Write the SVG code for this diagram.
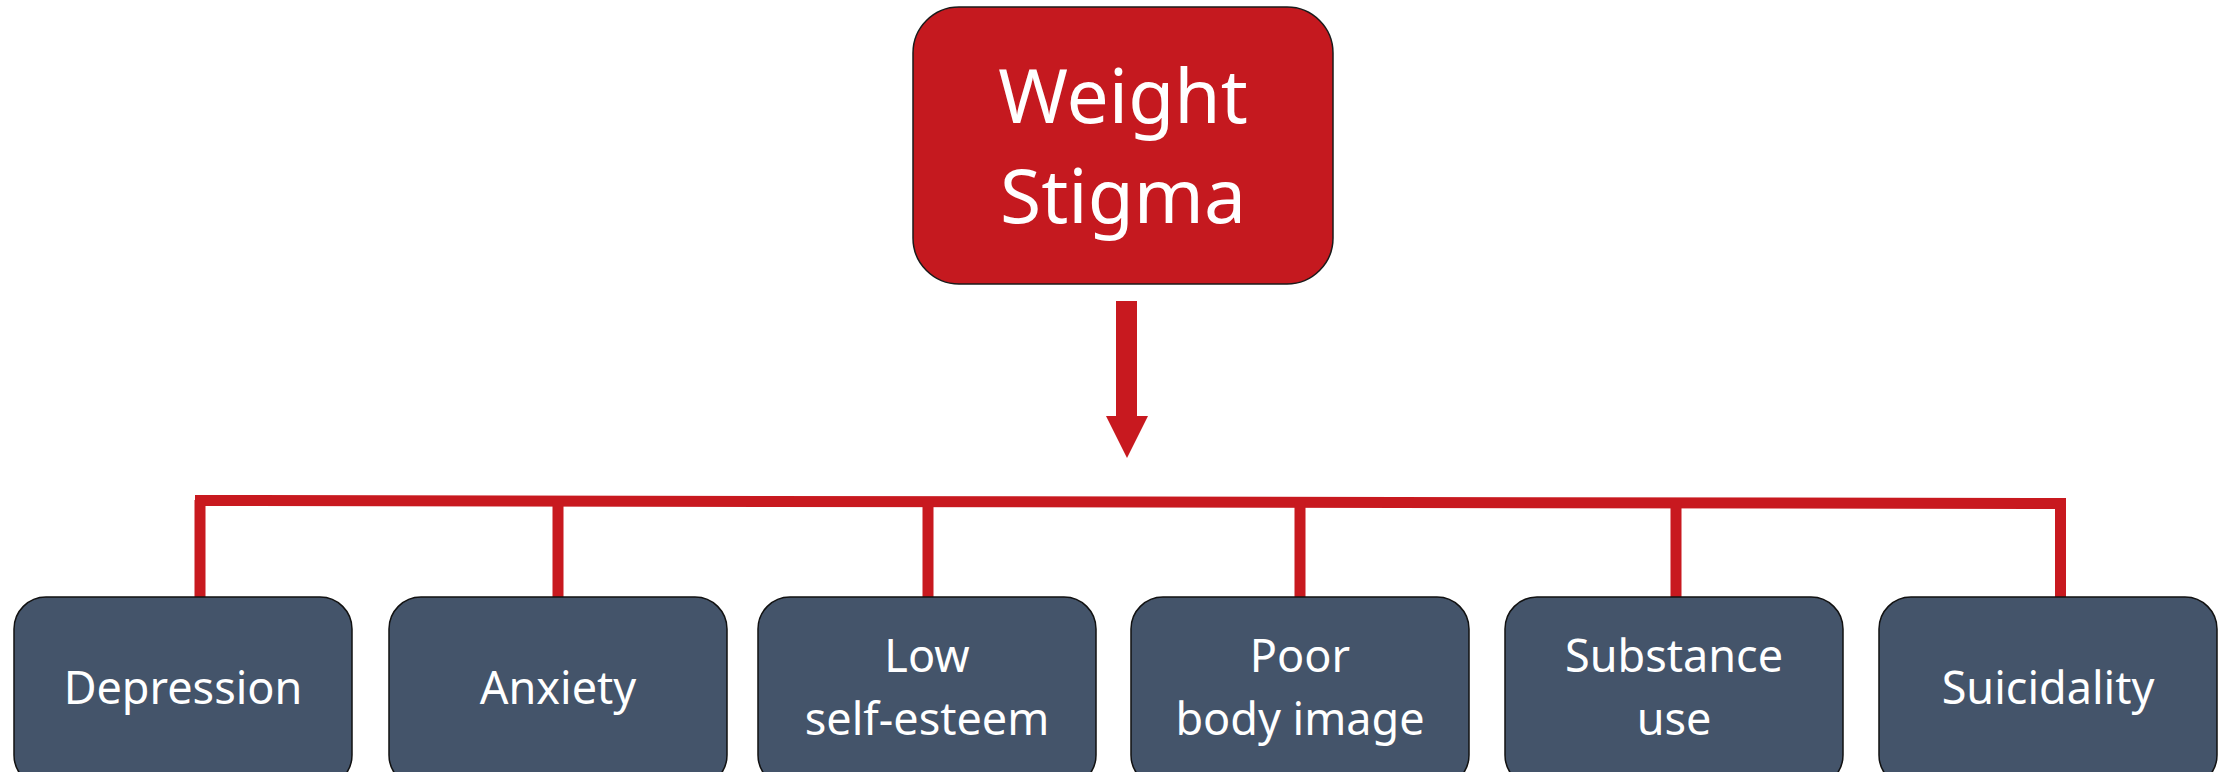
<svg xmlns="http://www.w3.org/2000/svg" width="2227" height="772" viewBox="0 0 2227 772">
<style>
.top{fill:#C5191F;stroke:#1a1a1a;stroke-width:1.5}
.box{fill:#44546A;stroke:#111;stroke-width:1.5}
.t{font-family:"Noto Sans","Open Sans","Liberation Sans",sans-serif;fill:#fff;text-anchor:middle}
.big{font-size:75px}
.sm{font-size:45px}
.wire{fill:none;stroke:#C8191F;stroke-width:11}
</style>
<rect width="2227" height="772" fill="#fff"/>
<g id="connectors">
<rect x="1116" y="301" width="21" height="116" fill="#C8191F"/>
<polygon points="1106,416 1148,416 1127,458" fill="#C8191F"/>
<path class="wire" d="M195,500.5 L2066,503.5"/>
<path class="wire" d="M200,500 V597 M558,501 V597 M928,501 V597 M1300,502 V597 M1676,502 V597 M2060.5,500 V597"/>
</g>
<g id="weight-stigma">
<rect class="top" x="913" y="7" width="420" height="277" rx="46"/>
<text class="t big" x="1123" y="123">Weight</text>
<text class="t big" x="1123" y="223">Stigma</text>
</g>
<g id="depression">
<rect class="box" x="14" y="597" width="338" height="190" rx="32"/>
<text class="t sm" x="183" y="704">Depression</text>
</g>
<g id="anxiety">
<rect class="box" x="389" y="597" width="338" height="190" rx="32"/>
<text class="t sm" x="558" y="704">Anxiety</text>
</g>
<g id="low-self-esteem">
<rect class="box" x="758" y="597" width="338" height="190" rx="32"/>
<text class="t sm" x="927" y="672">Low</text>
<text class="t sm" x="927" y="735">self-esteem</text>
</g>
<g id="poor-body-image">
<rect class="box" x="1131" y="597" width="338" height="190" rx="32"/>
<text class="t sm" x="1300" y="672">Poor</text>
<text class="t sm" x="1300" y="735">body image</text>
</g>
<g id="substance-use">
<rect class="box" x="1505" y="597" width="338" height="190" rx="32"/>
<text class="t sm" x="1674" y="672">Substance</text>
<text class="t sm" x="1674" y="735">use</text>
</g>
<g id="suicidality">
<rect class="box" x="1879" y="597" width="338" height="190" rx="32"/>
<text class="t sm" x="2048" y="704">Suicidality</text>
</g>
</svg>
